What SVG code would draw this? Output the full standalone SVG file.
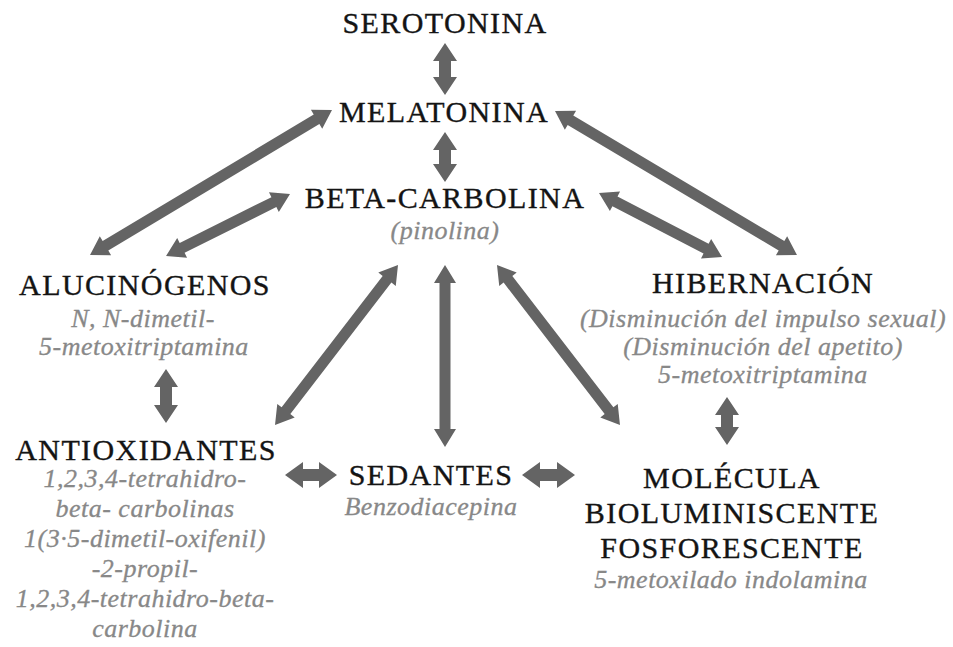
<svg xmlns="http://www.w3.org/2000/svg" width="953" height="647" viewBox="0 0 953 647">
<style>
.t{font-family:"Liberation Serif","Times New Roman",serif;font-size:30px;letter-spacing:1.4px;fill:#141414;stroke:#141414;stroke-width:0.35px;text-anchor:middle}
.s{font-family:"Liberation Serif","Times New Roman",serif;font-size:26px;font-style:italic;letter-spacing:0.5px;fill:#888888;stroke:#888888;stroke-width:0.3px;text-anchor:middle}
.a{fill:#646464}
</style>
<rect width="953" height="647" fill="#ffffff"/>
<g id="connectors" class="a">
<path transform="translate(445,43) rotate(90)" d="M0,0 L18,-12 L18,-6 L34,-6 L34,-12 L52,0 L34,12 L34,6 L18,6 L18,12 Z"/>
<path transform="translate(445,132) rotate(90)" d="M0,0 L18,-12 L18,-6 L32,-6 L32,-12 L50,0 L32,12 L32,6 L18,6 L18,12 Z"/>
<path transform="translate(332,110) rotate(149.07)" d="M0,0 L18,-11 L18,-5.5 L264.1,-5.5 L264.1,-11 L282.1,0 L264.1,11 L264.1,5.5 L18,5.5 L18,11 Z"/>
<path transform="translate(290,194) rotate(153.43)" d="M0,0 L18,-11 L18,-5.5 L120.6,-5.5 L120.6,-11 L138.6,0 L120.6,11 L120.6,5.5 L18,5.5 L18,11 Z"/>
<path transform="translate(555,111) rotate(30.76)" d="M0,0 L18,-11 L18,-5.5 L263.6,-5.5 L263.6,-11 L281.6,0 L263.6,11 L263.6,5.5 L18,5.5 L18,11 Z"/>
<path transform="translate(599,193) rotate(27.49)" d="M0,0 L18,-11 L18,-5.5 L120.7,-5.5 L120.7,-11 L138.7,0 L120.7,11 L120.7,5.5 L18,5.5 L18,11 Z"/>
<path transform="translate(398,265) rotate(127.55)" d="M0,0 L18,-11 L18,-5.5 L183.8,-5.5 L183.8,-11 L201.8,0 L183.8,11 L183.8,5.5 L18,5.5 L18,11 Z"/>
<path transform="translate(445,265) rotate(90)" d="M0,0 L18,-11 L18,-5.5 L164,-5.5 L164,-11 L182,0 L164,11 L164,5.5 L18,5.5 L18,11 Z"/>
<path transform="translate(497,265) rotate(52.45)" d="M0,0 L18,-11 L18,-5.5 L183.8,-5.5 L183.8,-11 L201.8,0 L183.8,11 L183.8,5.5 L18,5.5 L18,11 Z"/>
<path transform="translate(166,369) rotate(90)" d="M0,0 L18,-12 L18,-6 L36,-6 L36,-12 L54,0 L36,12 L36,6 L18,6 L18,12 Z"/>
<path transform="translate(727,397) rotate(90)" d="M0,0 L18,-12 L18,-6 L30,-6 L30,-12 L48,0 L30,12 L30,6 L18,6 L18,12 Z"/>
<path transform="translate(285,475)" d="M0,0 L18,-13 L18,-6 L34,-6 L34,-13 L52,0 L34,13 L34,6 L18,6 L18,13 Z"/>
<path transform="translate(522,475)" d="M0,0 L18,-13 L18,-6 L35,-6 L35,-13 L53,0 L35,13 L35,6 L18,6 L18,13 Z"/>
</g>
<g id="serotonina"><text class="t" x="445" y="33">SEROTONINA</text></g>
<g id="melatonina"><text class="t" x="444" y="122">MELATONINA</text></g>
<g id="beta-carbolina">
<text class="t" x="445" y="208">BETA-CARBOLINA</text>
<text class="s" x="445" y="239">(pinolina)</text>
</g>
<g id="alucinogenos">
<text class="t" x="145" y="295">ALUCINÓGENOS</text>
<text class="s" x="143" y="327">N, N-dimetil-</text>
<text class="s" x="144" y="355">5-metoxitriptamina</text>
</g>
<g id="hibernacion">
<text class="t" x="763" y="293">HIBERNACIÓN</text>
<text class="s" x="763" y="327">(Disminución del impulso sexual)</text>
<text class="s" x="763" y="355">(Disminución del apetito)</text>
<text class="s" x="763" y="383">5-metoxitriptamina</text>
</g>
<g id="antioxidantes">
<text class="t" x="146" y="460">ANTIOXIDANTES</text>
<text class="s" x="145" y="487">1,2,3,4-tetrahidro-</text>
<text class="s" x="145" y="517">beta- carbolinas</text>
<text class="s" x="145" y="547">1(3·5-dimetil-oxifenil)</text>
<text class="s" x="145" y="577">-2-propil-</text>
<text class="s" x="145" y="607">1,2,3,4-tetrahidro-beta-</text>
<text class="s" x="145" y="637">carbolina</text>
</g>
<g id="sedantes">
<text class="t" x="431" y="485">SEDANTES</text>
<text class="s" x="431" y="515">Benzodiacepina</text>
</g>
<g id="molecula">
<text class="t" x="732" y="488">MOLÉCULA</text>
<text class="t" x="732" y="523">BIOLUMINISCENTE</text>
<text class="t" x="732" y="558">FOSFORESCENTE</text>
<text class="s" x="731" y="588">5-metoxilado indolamina</text>
</g>
</svg>
